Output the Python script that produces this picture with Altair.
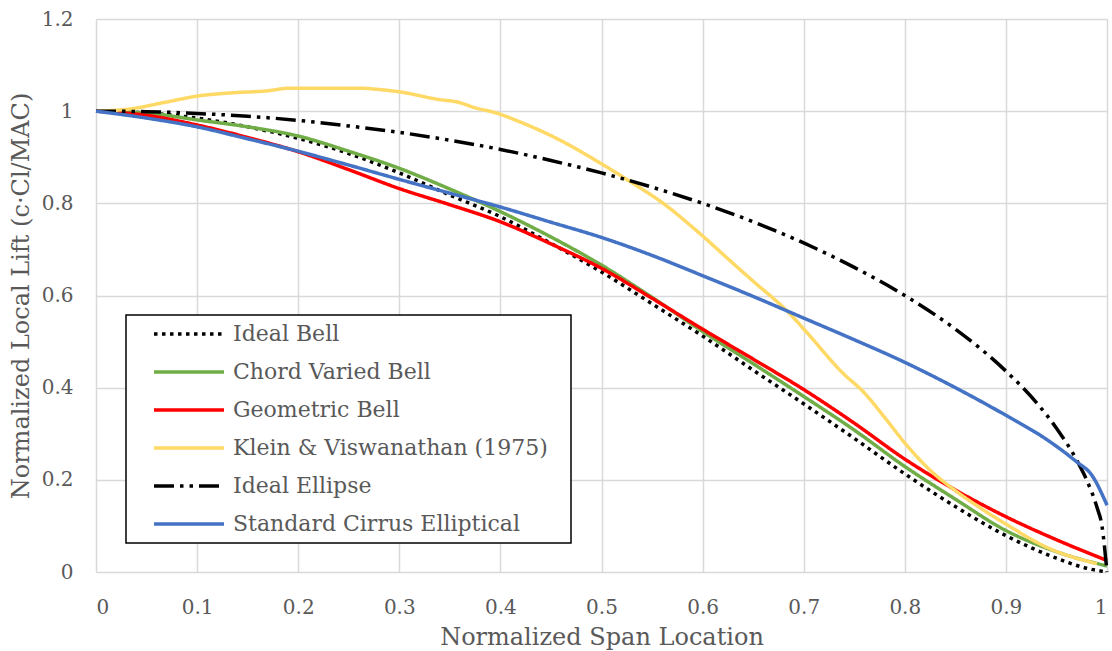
import altair as alt
import pandas as pd

# Spanwise lift distributions, normalized span location vs normalized local lift
bell_x = [0, 0.05, 0.1, 0.15, 0.2, 0.25, 0.3, 0.35, 0.4, 0.45, 0.5, 0.55, 0.6,
          0.65, 0.7, 0.75, 0.8, 0.85, 0.9, 0.95, 0.98, 1.0]
bell_y = [1.0, 0.996, 0.985, 0.966, 0.941, 0.908, 0.866, 0.818, 0.771, 0.713,
          0.651, 0.582, 0.512, 0.438, 0.365, 0.29, 0.213, 0.142, 0.079, 0.03,
          0.008, 0.0]

chord_x = [0, 0.05, 0.1, 0.15, 0.2, 0.25, 0.3, 0.35, 0.4, 0.45, 0.5, 0.55, 0.6,
           0.65, 0.7, 0.75, 0.8, 0.85, 0.9, 0.95, 1.0]
chord_y = [1.0, 0.996, 0.981, 0.966, 0.946, 0.913, 0.876, 0.831, 0.782, 0.727,
           0.666, 0.596, 0.522, 0.452, 0.381, 0.308, 0.229, 0.158, 0.09, 0.044,
           0.013]

geom_x = [0, 0.05, 0.1, 0.15, 0.2, 0.25, 0.3, 0.35, 0.4, 0.45, 0.5, 0.55, 0.6,
          0.65, 0.7, 0.75, 0.8, 0.85, 0.9, 0.95, 1.0]
geom_y = [1.0, 0.991, 0.970, 0.943, 0.912, 0.873, 0.832, 0.797, 0.760, 0.712,
          0.659, 0.594, 0.527, 0.462, 0.396, 0.323, 0.245, 0.178, 0.12, 0.07,
          0.025]

klein_x = [0, 0.034, 0.07, 0.101, 0.136, 0.169, 0.192, 0.26, 0.28, 0.30, 0.34,
           0.357, 0.377, 0.393, 0.419, 0.459, 0.499, 0.53, 0.561, 0.597, 0.63,
           0.649, 0.686, 0.703, 0.739, 0.759, 0.782, 0.8, 0.825, 0.851, 0.874,
           0.9, 0.944, 0.983, 0.99]
klein_y = [1.0, 1.005, 1.02, 1.033, 1.04, 1.044, 1.05, 1.05, 1.047, 1.042, 1.025,
           1.02, 1.006, 0.998, 0.977, 0.937, 0.887, 0.845, 0.80, 0.735, 0.67,
           0.633, 0.561, 0.52, 0.431, 0.391, 0.33, 0.28, 0.221, 0.175, 0.14,
           0.104, 0.05, 0.022, 0.018]

ellipse_x = [0, 0.05, 0.1, 0.15, 0.2, 0.25, 0.3, 0.35, 0.4, 0.45, 0.5, 0.55, 0.6,
             0.65, 0.7, 0.75, 0.8, 0.85, 0.9, 0.93, 0.95, 0.97, 0.98, 0.99,
             0.995, 1.0]
ellipse_y = [1.0, 0.999, 0.995, 0.989, 0.98, 0.968, 0.954, 0.937, 0.917, 0.893,
             0.866, 0.835, 0.8, 0.76, 0.714, 0.661, 0.6, 0.527, 0.436, 0.368,
             0.312, 0.243, 0.199, 0.141, 0.1, 0.0]

cirrus_x = [0, 0.05, 0.1, 0.15, 0.2, 0.25, 0.3, 0.35, 0.4, 0.45, 0.5, 0.55, 0.6,
            0.65, 0.7, 0.75, 0.8, 0.85, 0.9, 0.94, 0.97, 0.985, 1.0]
cirrus_y = [1.0, 0.985, 0.966, 0.94, 0.913, 0.883, 0.852, 0.822, 0.792, 0.759,
            0.726, 0.687, 0.643, 0.598, 0.551, 0.504, 0.455, 0.40, 0.34, 0.288,
            0.239, 0.21, 0.145]

series_names = ["Ideal Bell", "Chord Varied Bell", "Geometric Bell",
                "Klein & Viswanathan (1975)", "Ideal Ellipse",
                "Standard Cirrus Elliptical"]
series_x = [bell_x, chord_x, geom_x, klein_x, ellipse_x, cirrus_x]
series_y = [bell_y, chord_y, geom_y, klein_y, ellipse_y, cirrus_y]

x_ticks = [0, 0.1, 0.2, 0.3, 0.4, 0.5, 0.6, 0.7, 0.8, 0.9, 1]
y_ticks = [0, 0.2, 0.4, 0.6, 0.8, 1, 1.2]

# Line styles per series
series_colors = ["#000000", "#70AD47", "#FF0000", "#FFD966", "#000000", "#4472C4"]
series_dashes = [[3.5, 4.5], [1, 0], [1, 0], [1, 0], [20, 6, 3.5, 6, 3.5, 6], [1, 0]]

rows = []
for name, xs, ys in zip(series_names, series_x, series_y):
    for xv, yv in zip(xs, ys):
        rows.append({"series": name, "x": xv, "y": yv})
df = pd.DataFrame(rows)

FONT = "DejaVu Serif"
TEXT = "#595959"

legend = alt.Legend(
    title=None, orient="none", legendX=56, legendY=304, padding=0,
    clipHeight=22, rowPadding=16, symbolType="stroke", symbolSize=4900,
    symbolStrokeWidth=3.5, labelOffset=7, labelFont=FONT, labelFontSize=22,
    labelColor=TEXT, labelLimit=500,
)

lines = alt.Chart(df).mark_line(strokeWidth=3.5, interpolate="monotone").encode(
    x=alt.X("x:Q", scale=alt.Scale(domain=[0, 1], nice=False),
            axis=alt.Axis(values=x_ticks, format="~g",
                          title="Normalized Span Location")),
    y=alt.Y("y:Q", scale=alt.Scale(domain=[0, 1.2], nice=False),
            axis=alt.Axis(values=y_ticks, format="~g",
                          title="Normalized Local Lift (c·Cl/MAC)")),
    color=alt.Color("series:N", sort=series_names,
                    scale=alt.Scale(domain=series_names, range=series_colors),
                    legend=legend),
    strokeDash=alt.StrokeDash("series:N", sort=series_names,
                              scale=alt.Scale(domain=series_names, range=series_dashes),
                              legend=legend),
)

# White framed panel behind the legend entries
legend_box = alt.Chart(alt.Data(values=[{}])).mark_rect(
    fill="white", stroke="black", strokeWidth=1.5
).encode(x=alt.value(30), x2=alt.value(475), y=alt.value(296), y2=alt.value(524))

chart = alt.layer(legend_box, lines).properties(
    width=1011, height=553,
    autosize=alt.AutoSizeParams(type="none"),
    padding={"left": 96, "top": 19, "right": 5, "bottom": 79},
    background="white",
).configure_view(strokeWidth=0).configure_axis(
    domain=False, ticks=False, grid=True, gridColor="#D9D9D9", gridWidth=1.5,
    labelFont=FONT, labelFontSize=20, labelColor=TEXT,
    titleFont=FONT, titleFontSize=24, titleColor=TEXT, titleFontWeight="normal",
).configure_axisX(labelPadding=25, titlePadding=8).configure_axisY(
    labelPadding=23, titlePadding=8
)

chart.save("out.html", embed_options={"renderer": "svg", "actions": False})
